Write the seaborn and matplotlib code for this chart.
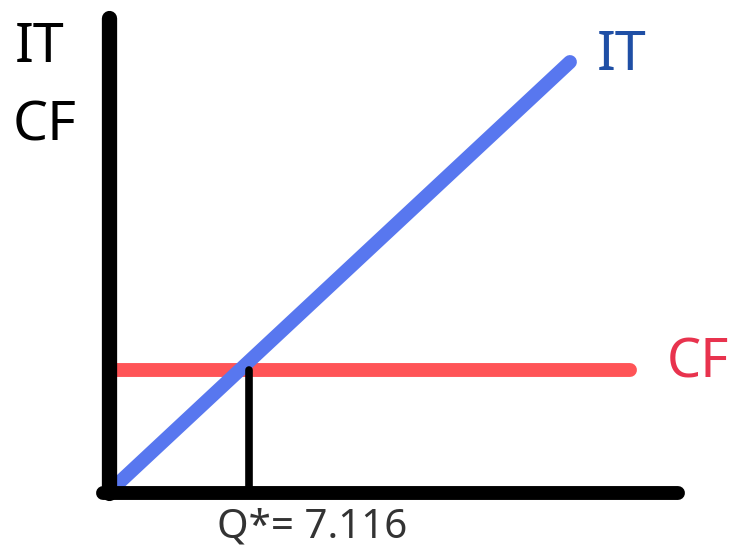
import matplotlib
matplotlib.use("Agg")
import matplotlib.pyplot as plt
import seaborn as sns
import pandas as pd

# Data (Q on x, money on y)
q_star = 7.116
q_it = [0.0, 23.43]
it_values = [0.0, 86.0]
q_cf = [0.4, 26.5]
cf_values = [24.4, 24.4]

sns.set_theme(style="white")
plt.rcParams['font.family'] = ['Noto Sans', 'DejaVu Sans']

fig = plt.figure(figsize=(7.36, 5.51), dpi=100)
ax = fig.add_axes([0, 0, 1, 1])
ax.set_xlim(-5.54, 31.87)
ax.set_ylim(-11.8, 98.4)
ax.axis('off')

it_df = pd.DataFrame({'Q': q_it, 'value': it_values})
cf_df = pd.DataFrame({'Q': q_cf, 'value': cf_values})

# axes drawn by hand
ax.plot([0, 0], [-0.2, 94.8], color='black', lw=11, solid_capstyle='round', zorder=3)
ax.plot([-0.3, 28.9], [-0.2, -0.2], color='black', lw=10, solid_capstyle='round', zorder=3)

sns.lineplot(data=cf_df, x='Q', y='value', ax=ax, color='#FF5457', lw=10,
             solid_capstyle='round', zorder=1)
sns.lineplot(data=it_df, x='Q', y='value', ax=ax, color='#5877EF', lw=10,
             solid_capstyle='round', zorder=2)

# drop line at Q*
ax.plot([q_star, q_star], [0, cf_values[0]], color='black', lw=5.5,
        solid_capstyle='round', zorder=2)

# labels
fig.text(15 / 736, 1 - 47 / 551, 'IT', fontsize=40, color='black', ha='left', va='center')
fig.text(13 / 736, 1 - 126 / 551, 'CF', fontsize=40, color='black', ha='left', va='center')
fig.text(597 / 736, 1 - 55 / 551, 'IT', fontsize=40, color='#1F4FA5', ha='left', va='center')
fig.text(667 / 736, 1 - 363 / 551, 'CF', fontsize=39, color='#E8334E', ha='left', va='center')
fig.text(312 / 736, 1 - 528 / 551, 'Q*= 7.116', fontsize=29, color='#333333', ha='center', va='center')

fig.savefig('out.png', dpi=100)
